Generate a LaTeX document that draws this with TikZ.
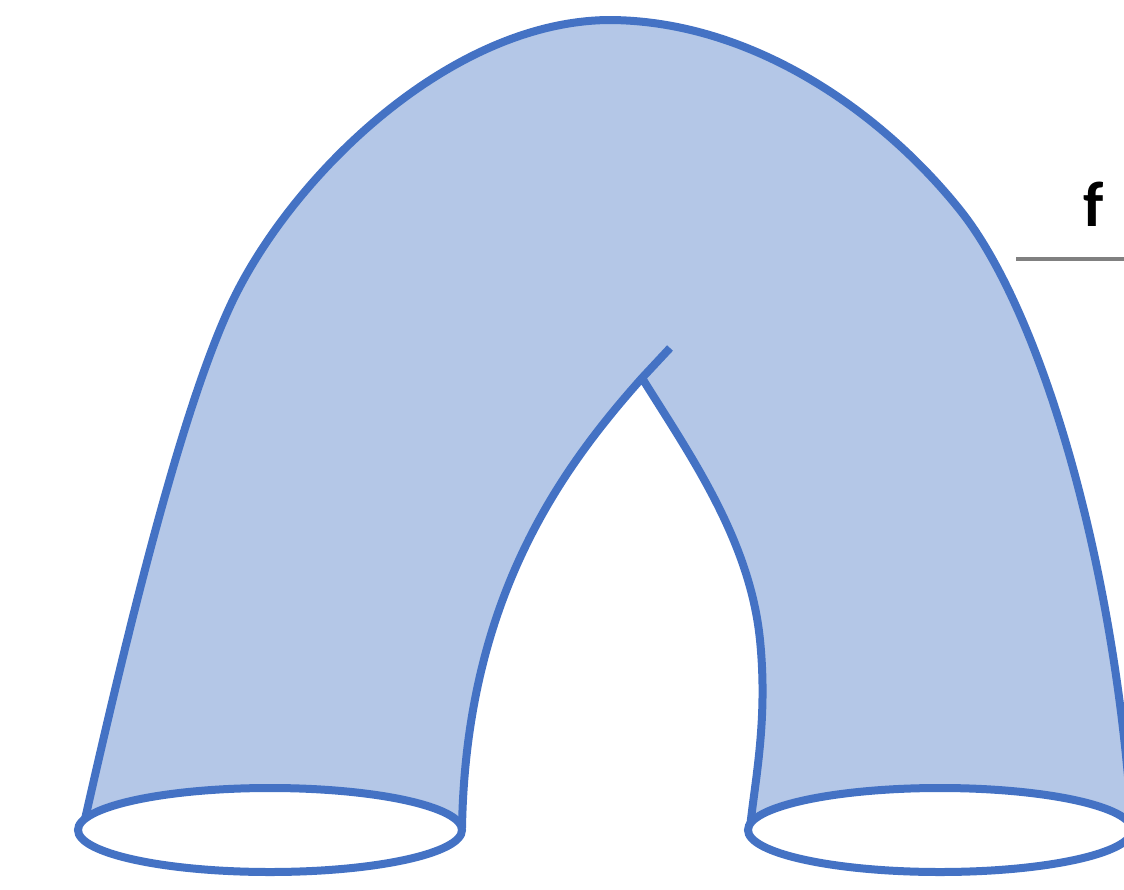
\documentclass[tikz,border=0pt]{standalone}
\usepackage{fontspec}
\setsansfont{Carlito}[BoldFont={Carlito Bold}]
\usetikzlibrary{shapes.geometric}
\definecolor{edgeblue}{HTML}{4472C4}
\definecolor{fillblue}{HTML}{B4C7E7}
\definecolor{rulegray}{HTML}{808080}
\begin{document}
\begin{tikzpicture}[x=1pt,y=-1pt,
  outline/.style={draw=edgeblue,line width=8pt,line join=round},
  band/.style={fill=fillblue},
  rim/.style={draw=edgeblue,fill=white,line width=8pt,ellipse,inner sep=0pt,minimum width=384pt,minimum height=84pt}]
\useasboundingbox (0,0) rectangle (1124,889);
\clip (0,0) rectangle (1124,889);
\coordinate (cusp) at (642,378);
\coordinate (spur) at (670,348);
% filled band
\fill[band] (83,830) .. controls (130,620) and (183,404) .. (233,300)
  .. controls (294,174) and (450,22) .. (608,20)
  .. controls (750,20) and (880,110) .. (960,210)
  .. controls (1040,310) and (1115,560) .. (1132,830)
  -- (750,830) .. controls (755,780) and (768,720) .. (760,640)
  .. controls (750,540) and (690,455) .. (cusp)
  .. controls (560,470) and (466,600) .. (462,830) -- cycle;
% outer contour
\draw[outline] (83,828) .. controls (130,620) and (183,404) .. (233,300)
  .. controls (294,174) and (450,22) .. (608,20)
  .. controls (750,20) and (880,110) .. (960,210)
  .. controls (1040,310) and (1115,560) .. (1132,828);
% inner contour
\draw[outline] (750,828) .. controls (755,780) and (768,720) .. (760,640)
  .. controls (750,540) and (690,455) .. (cusp)
  .. controls (560,470) and (466,600) .. (462,828);
% spur at the cusp
\draw[draw=edgeblue,line width=8pt] (cusp) -- (spur);
% rims
\node[rim] (leftrim) at (270,830) {};
\node[rim] (rightrim) at (940,830) {};
% label
\node[font=\sffamily\bfseries,inner sep=0pt] (flabel) at (1094,204) {\fontsize{64}{64}\selectfont f};
\coordinate (ruleA) at (1016,259);
\coordinate (ruleB) at (1124,259);
\draw[rulegray,line width=4pt] (ruleA) -- (ruleB);
\end{tikzpicture}
\end{document}
